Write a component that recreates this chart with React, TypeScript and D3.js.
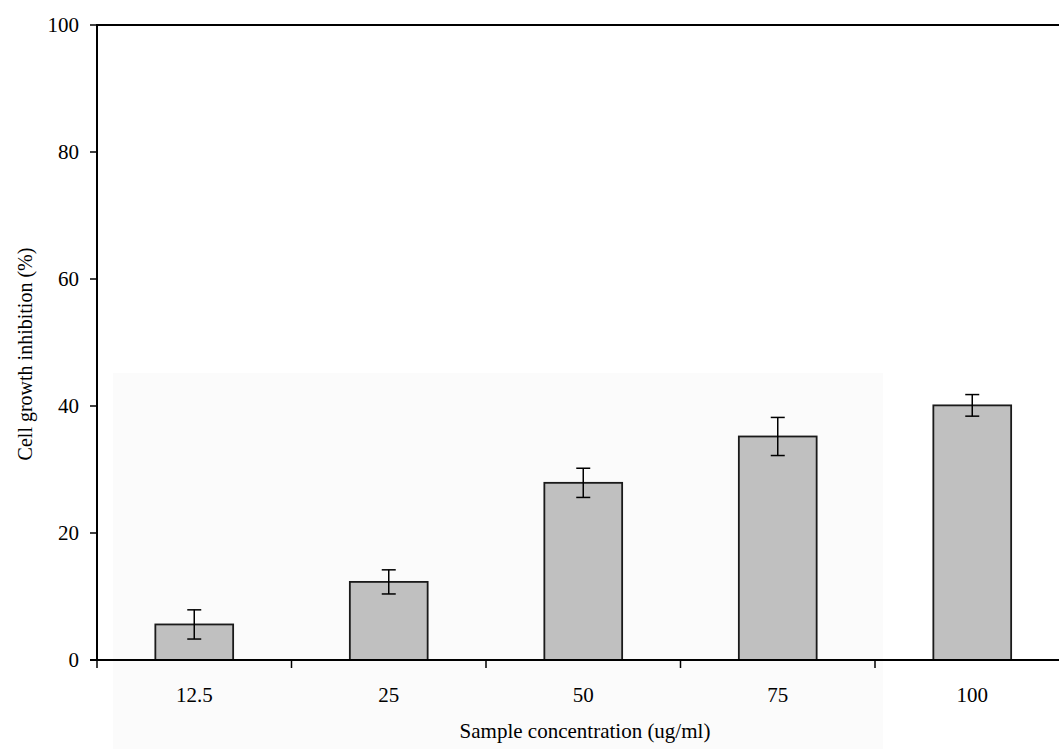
import React from "react";
import * as d3 from "d3";

const categories = ["12.5", "25", "50", "75", "100"];
const means = [5.6, 12.3, 27.9, 35.2, 40.1];
const errors = [2.3, 1.9, 2.3, 3.0, 1.7];
const yTicks = [0, 20, 40, 60, 80, 100];

const W = 1059;
const H = 749;
const left = 97;
const top = 25;
const bottom = 660;
const bandW = 194.5;
const right = left + bandW * categories.length;

export default function App() {
  const x = d3.scaleBand<string>().domain(categories).range([left, right]).paddingInner(0).paddingOuter(0);
  const y = d3.scaleLinear().domain([0, 100]).range([bottom, top]);
  const barW = x.bandwidth() * 0.4;
  const font = "'Liberation Serif', 'Times New Roman', serif";
  const boundaries = categories.map((c) => x(c)!);
  return (
    <svg width={W} height={H} style={{ position: "absolute", left: 0, top: 0, background: "#fff" }}>
      <rect x={113} y={373} width={770} height={376} fill="#fbfbfb" />
      {/* top border line */}
      <line x1={left} x2={W} y1={top} y2={top} stroke="#000" strokeWidth={2} />
      {/* y axis */}
      <line x1={left} x2={left} y1={top - 1} y2={bottom} stroke="#000" strokeWidth={2} />
      {yTicks.map((t) => (
        <g key={t}>
          <line x1={left - 7} x2={left} y1={y(t)} y2={y(t)} stroke="#000" strokeWidth={1.5} />
          <text x={79} y={y(t)} dy="0.35em" textAnchor="end" fontFamily={font} fontSize={21} fill="#000">
            {t}
          </text>
        </g>
      ))}
      {/* bars */}
      {categories.map((c, i) => {
        const cx = x(c)! + x.bandwidth() / 2;
        return (
          <g key={c}>
            <rect x={cx - barW / 2} y={y(means[i])} width={barW} height={bottom - y(means[i])} fill="#c0c0c0" stroke="#1a1a1a" strokeWidth={1.8} />
            <line x1={cx} x2={cx} y1={y(means[i] + errors[i])} y2={y(means[i] - errors[i])} stroke="#000" strokeWidth={1.5} />
            <line x1={cx - 7} x2={cx + 7} y1={y(means[i] + errors[i])} y2={y(means[i] + errors[i])} stroke="#000" strokeWidth={1.5} />
            <line x1={cx - 7} x2={cx + 7} y1={y(means[i] - errors[i])} y2={y(means[i] - errors[i])} stroke="#000" strokeWidth={1.5} />
            <text x={cx} y={702} textAnchor="middle" fontFamily={font} fontSize={21} fill="#000">
              {c}
            </text>
          </g>
        );
      })}
      {/* x axis */}
      <line x1={90} x2={W} y1={bottom} y2={bottom} stroke="#000" strokeWidth={2} />
      {boundaries.map((b, i) => (
        <line key={i} x1={b} x2={b} y1={bottom} y2={bottom + 8} stroke="#000" strokeWidth={1.5} />
      ))}
      <text x={585} y={738} textAnchor="middle" fontFamily={font} fontSize={21} fill="#000">
        Sample concentration (ug/ml)
      </text>
      <text transform={`translate(32, 354) rotate(-90)`} textAnchor="middle" fontFamily={font} fontSize={20} fill="#000">
        Cell growth inhibition (%)
      </text>
    </svg>
  );
}
